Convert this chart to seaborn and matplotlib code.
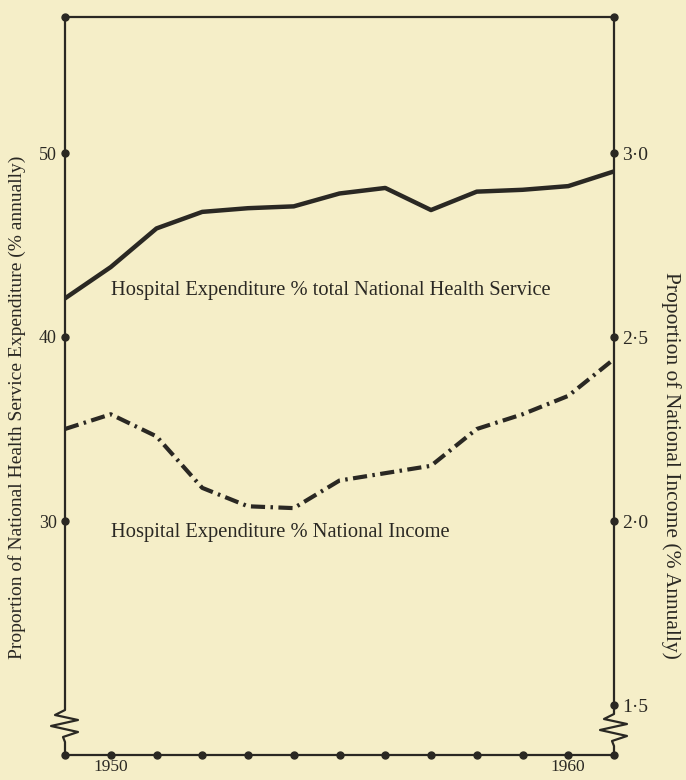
import numpy as np
import pandas as pd
import matplotlib.pyplot as plt
from matplotlib.lines import Line2D
import seaborn as sns

# Data
years = list(range(1949, 1962))
# hospital expenditure as % of total NHS expenditure (left axis)
nhs_pct = [42.1, 43.8, 45.9, 46.8, 47.0, 47.1, 47.8, 48.1, 46.9, 47.9, 48.0, 48.2, 49.0]
# hospital expenditure as % of national income (right axis)
ni_pct = [2.25, 2.29, 2.23, 2.09, 2.04, 2.035, 2.11, 2.13, 2.15, 2.25, 2.29, 2.34, 2.44]

left_ticks = [30, 40, 50]
right_ticks = [1.5, 2.0, 2.5, 3.0]
right_labels = ["1·5", "2·0", "2·5", "3·0"]
xtick_labels = {1950: "1950", 1960: "1960"}

df = pd.DataFrame({"year": years, "nhs": nhs_pct, "ni": ni_pct})

paper = "#f5eec8"
ink = "#2a2823"

sns.set_style("white")
plt.rcParams["font.family"] = ["Liberation Serif", "DejaVu Serif"]

W, H = 686, 780
fig = plt.figure(figsize=(W / 100, H / 100), dpi=100, facecolor=paper)
x0, x1, y0, y1 = 65, 614, 755, 17
ax = fig.add_axes([x0 / W, 1 - y0 / H, (x1 - x0) / W, (y0 - y1) / H])
ax.set_facecolor(paper)
ax2 = ax.twinx()

# left scale: 10 units = 184 px, 50 at y=153
ylo = 30 - (y0 - 521) / 18.4
yhi = 50 + (153 - y1) / 18.4
ax.set_ylim(ylo, yhi)
ax2.set_ylim(0.5 + 0.05 * ylo, 0.5 + 0.05 * yhi)
ax.set_xlim(years[0], years[-1])

sns.lineplot(data=df, x="year", y="nhs", ax=ax, color=ink, lw=3.2)
sns.lineplot(data=df, x="year", y="ni", ax=ax2, color=ink, lw=3.0,
             linestyle=(0, (3.4, 1.3, 0.6, 1.3)))

# tick labels, ticks themselves drawn as dots on the axis lines
ax.set_xticks(years)
ax.set_xticklabels([xtick_labels.get(y, "") for y in years], fontsize=12.5, color=ink)
ax.set_yticks(left_ticks)
ax.set_yticklabels([str(t) for t in left_ticks], fontsize=13, color=ink)
ax2.set_yticks(right_ticks)
ax2.set_yticklabels(right_labels, fontsize=14, color=ink)
ax.tick_params(axis="x", length=0, pad=3)
ax.tick_params(axis="y", length=0, pad=6)
ax2.tick_params(axis="y", length=0, pad=6)
ax.set_xlabel("")
ax.set_ylabel("")
ax2.set_ylabel("")

dot = dict(marker="o", ms=5, color=ink, ls="none", clip_on=False, zorder=5)
ax.plot(years, [0] * len(years), transform=ax.get_xaxis_transform(), **dot)
ax.plot([0] * len(left_ticks), left_ticks, transform=ax.get_yaxis_transform(), **dot)
ax2.plot([1] * len(right_ticks), right_ticks, transform=ax2.get_yaxis_transform(), **dot)
ax.plot([years[0], years[-1]], [1, 1], transform=ax.get_xaxis_transform(), **dot)

for a in (ax, ax2):
    for s in a.spines.values():
        s.set_visible(False)
for s in ("top", "bottom"):
    ax.spines[s].set_visible(True)
    ax.spines[s].set_color(ink)
    ax.spines[s].set_linewidth(1.6)

# side axis lines with the broken-scale zigzag near the bottom
def side(xp, zy):
    pts = [(0, y1), (0, zy), (-10, zy + 5), (13, zy + 10), (-14, zy + 16),
           (13, zy + 22), (-2, zy + 27), (0, zy + 32), (0, y0)]
    xs = [(xp + dx) / W for dx, _ in pts]
    ys = [1 - py / H for _, py in pts]
    fig.add_artist(Line2D(xs, ys, color=ink, lw=1.6, transform=fig.transFigure))

side(x0, 710)
side(x1, 714)

ax.text(1950.0, 42.55, "Hospital Expenditure % total National Health Service",
        fontsize=14.8, color=ink, va="center")
ax.text(1950.0, 29.35, "Hospital Expenditure % National Income",
        fontsize=14.8, color=ink, va="center")

fig.text(17 / W, 1 - 407 / H, "Proportion of National Health Service Expenditure (% annually)",
         rotation=90, ha="center", va="center", fontsize=14, color=ink)
fig.text(671 / W, 1 - 465 / H, "Proportion of National Income (% Annually)",
         rotation=270, ha="center", va="center", fontsize=15.5, color=ink)

fig.savefig("out.png", dpi=100, facecolor=paper)
